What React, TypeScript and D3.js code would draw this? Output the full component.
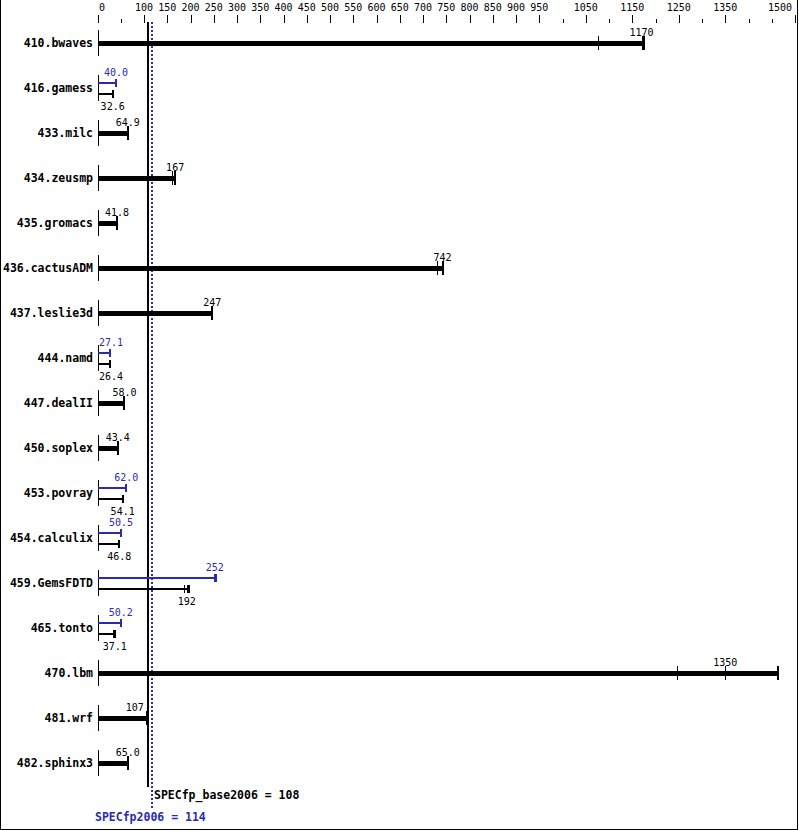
import React from "react";
import * as d3 from "d3";

const benchmarks = [
  "410.bwaves", "416.gamess", "433.milc", "434.zeusmp", "435.gromacs",
  "436.cactusADM", "437.leslie3d", "444.namd", "447.dealII", "450.soplex",
  "453.povray", "454.calculix", "459.GemsFDTD", "465.tonto", "470.lbm",
  "481.wrf", "482.sphinx3",
];

// median base ratio per benchmark
const baseMedian = [1170, 32.6, 64.9, 167, 41.8, 742, 247, 26.4, 58.0, 43.4, 54.1, 46.8, 192, 37.1, 1350, 107, 65.0];
// median peak ratio (null = no separate peak result shown)
const peakMedian = [null, 40.0, null, null, null, null, null, 27.1, null, null, 62.0, 50.5, 252, 50.2, null, null, null];

// individual run results (ticks); the bar runs out to the largest one
const baseRuns: number[][] = [
  [1077, 1170, 1176], [32.6], [64.9], [160, 167], [41.8], [731, 742], [247],
  [26.4], [58.0], [43.4], [54.1], [46.8], [187, 192, 197], [33, 37.1],
  [1247, 1350, 1464], [107], [65.0],
];
const peakRuns: number[][] = [
  [], [40.0], [], [], [], [], [], [27.1], [], [], [62.0], [50.5], [251, 252, 254], [50.2], [], [], [],
];

const majorTicks = [0, 100, 150, 200, 250, 300, 350, 400, 450, 500, 550, 600, 650, 700, 750, 800, 850, 900, 950, 1050, 1150, 1250, 1350, 1500];
const minorTicks = [50, 1000, 1100, 1200, 1300, 1400, 1450];

const specBase = 108;
const specPeak = 114;

const BLUE = "#2b2bb0";
const MONO = "'DejaVu Sans Mono', 'Liberation Mono', monospace";

const W = 799;
const H = 831;

const fmt = (v: number) => (v >= 100 ? String(Math.round(v)) : v.toFixed(1));

const App: React.FC = () => {
  const x = d3.scaleLinear().domain([0, 1500]).range([97.5, 795]);
  const y = d3.scalePoint<string>().domain(benchmarks).range([43, 763]);

  const x0 = x(0);
  const lineL = x(specBase) - 2;
  const lineR = x(specPeak) + 3;

  // centre a value label on the median, keep it inside the plot and off the mean lines
  const labelX = (v: number, text: string) => {
    const w = text.length * 6.02;
    let c = x(v);
    c = Math.max(c, 99 + w / 2);
    c = Math.min(c, 792 - w / 2);
    if (c + w / 2 > lineL && c - w / 2 < lineR) c = lineL - 2 - w / 2;
    return c;
  };

  return (
    <svg
      width={W}
      height={H}
      style={{ position: "absolute", left: 0, top: 0, background: "#fff" }}
      shapeRendering="crispEdges"
    >
      <rect x={0} y={0} width={W} height={H} fill="#fff" />
      <path d={`M0.5,0 V829.5 H797.5 V0`} fill="none" stroke="#000" strokeWidth={1} />

      {/* top axis */}
      {majorTicks.map((t) => {
        const label = String(t);
        const w = label.length * 6.02;
        const c = Math.min(Math.max(x(t), 99 + w / 2), 792 - w / 2);
        return (
          <g key={"M" + t}>
            <line x1={Math.round(x(t)) + 0.5} x2={Math.round(x(t)) + 0.5} y1={15} y2={23} stroke="#000" />
            <text x={c} y={11} textAnchor="middle" fontFamily={MONO} fontSize={10}>
              {label}
            </text>
          </g>
        );
      })}
      {minorTicks.map((t) => (
        <line key={"m" + t} x1={Math.round(x(t)) + 0.5} x2={Math.round(x(t)) + 0.5} y1={19} y2={23} stroke="#000" />
      ))}

      {/* mean lines */}
      <line x1={x(specBase)} x2={x(specBase)} y1={22} y2={787} stroke="#000" strokeWidth={2} />
      <line
        x1={x(specPeak) + 1}
        x2={x(specPeak) + 1}
        y1={22}
        y2={808}
        stroke={BLUE}
        strokeWidth={2}
        strokeDasharray="2,2"
      />

      {benchmarks.map((b, i) => {
        const cy = y(b) as number;
        const base = baseMedian[i];
        const peak = peakMedian[i];
        const baseMax = x(d3.max([base, ...baseRuns[i]]) as number);
        return (
          <g key={b}>
            <text x={93} y={cy + 4} textAnchor="end" fontFamily={MONO} fontSize={11.5} fontWeight="bold">
              {b}
            </text>
            <line x1={Math.round(x0) + 0.5} x2={Math.round(x0) + 0.5} y1={cy - 13} y2={cy + 13} stroke="#000" />
            {peak == null ? (
              <g>
                <rect x={x0} y={cy - 2} width={baseMax - x0} height={5} fill="#000" />
                <rect x={baseMax - 1} y={cy - 7} width={2} height={14} fill="#000" />
                {baseRuns[i].map((r, k) => (
                  <rect key={k} x={Math.round(x(r))} y={cy - 7} width={1} height={14} fill="#000" />
                ))}
                <text x={labelX(base, fmt(base))} y={cy - 7} textAnchor="middle" fontFamily={MONO} fontSize={10}>
                  {fmt(base)}
                </text>
              </g>
            ) : (
              (() => {
                const peakMax = x(d3.max([peak, ...peakRuns[i]]) as number);
                return (
                  <g>
                    {/* peak */}
                    <line x1={x0} x2={peakMax} y1={cy - 5} y2={cy - 5} stroke={BLUE} strokeWidth={2} />
                    <rect x={peakMax - 1} y={cy - 9} width={2} height={8} fill={BLUE} />
                    {peakRuns[i].map((r, k) => (
                      <rect key={k} x={Math.round(x(r))} y={cy - 9} width={1} height={8} fill={BLUE} />
                    ))}
                    <text x={labelX(peak, fmt(peak))} y={cy - 12.5} textAnchor="middle" fontFamily={MONO} fontSize={10} fill={BLUE}>
                      {fmt(peak)}
                    </text>
                    {/* base */}
                    <line x1={x0} x2={baseMax} y1={cy + 6} y2={cy + 6} stroke="#000" strokeWidth={2} />
                    <rect x={baseMax - 1} y={cy + 2} width={2} height={8} fill="#000" />
                    {baseRuns[i].map((r, k) => (
                      <rect key={k} x={Math.round(x(r))} y={cy + 2} width={1} height={8} fill="#000" />
                    ))}
                    <text x={labelX(base, fmt(base))} y={cy + 21.5} textAnchor="middle" fontFamily={MONO} fontSize={10}>
                      {fmt(base)}
                    </text>
                  </g>
                );
              })()
            )}
          </g>
        );
      })}

      <text x={154} y={799} fontFamily={MONO} fontSize={11.5} fontWeight="bold">
        {`SPECfp_base2006 = ${specBase}`}
      </text>
      <text x={95} y={821} fontFamily={MONO} fontSize={11.5} fontWeight="bold" fill={BLUE}>
        {`SPECfp2006 = ${specPeak}`}
      </text>
    </svg>
  );
};

export default App;
